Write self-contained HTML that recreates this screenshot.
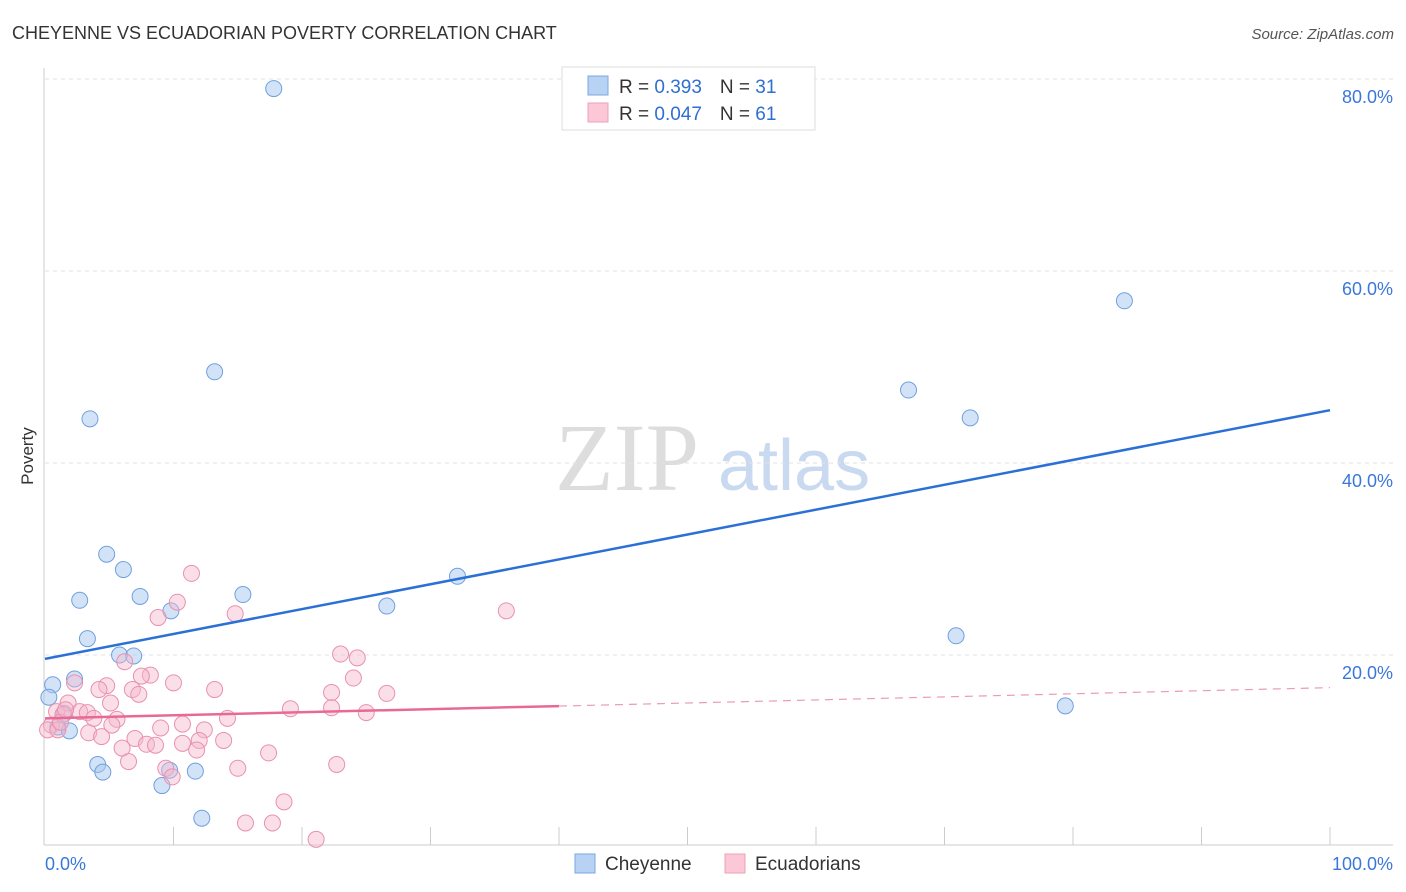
<!DOCTYPE html>
<html><head><meta charset="utf-8"><style>
body{margin:0;background:#fff;font-family:"Liberation Sans",sans-serif}
svg{display:block}
</style></head><body>
<svg id="chart" width="1406" height="892" viewBox="0 0 1406 892">
<text x="12" y="39" font-size="18" fill="#333">CHEYENNE VS ECUADORIAN POVERTY CORRELATION CHART</text>
<text x="1394" y="39" font-size="15" fill="#555" font-style="italic" text-anchor="end">Source: ZipAtlas.com</text>
<text x="33" y="456" font-size="17" fill="#333" transform="rotate(-90 33 456)" text-anchor="middle">Poverty</text>
<text x="555" y="490" font-size="96" fill="#ddd" font-family="Liberation Serif,serif">ZIP</text>
<text x="718" y="490" font-size="72" fill="#c8d9f0">atlas</text>
<g id="grid"></g><g id="pts"></g><g id="lines"></g>
<g>
<rect x="562" y="67" width="253" height="63" fill="#fff" stroke="#ddd"/>
<rect x="588" y="76" width="20" height="19" fill="#b8d2f4" stroke="#7aa8e0"/>
<rect x="588" y="103" width="20" height="19" fill="#fcc8d8" stroke="#eda0b8"/>
<text x="619" y="93" font-size="19" fill="#333">R = <tspan fill="#2f6fd0">0.393</tspan><tspan dx="18">N = </tspan><tspan fill="#2f6fd0">31</tspan></text>
<text x="619" y="120" font-size="19" fill="#333">R = <tspan fill="#2f6fd0">0.047</tspan><tspan dx="18">N = </tspan><tspan fill="#2f6fd0">61</tspan></text>
</g>
<g>
<rect x="575" y="854" width="20" height="19" fill="#b8d2f4" stroke="#7aa8e0"/>
<text x="605" y="870" font-size="19" fill="#333">Cheyenne</text>
<rect x="725" y="854" width="20" height="19" fill="#fcc8d8" stroke="#eda0b8"/>
<text x="755" y="870" font-size="19" fill="#333">Ecuadorians</text>
</g>
</svg>
<script>
const yTicks=[20,40,60,80];
const yTickLabels=["20.0%","40.0%","60.0%","80.0%"];
const xTickLabels=["0.0%","100.0%"];
const cheyenneX=[17.8,13.2,3.5,4.8,6.1,2.7,7.4,9.8,15.4,3.3,5.8,6.9,0.6,2.3,0.3,1.5,1.0,1.9,4.1,4.5,9.7,11.7,9.1,12.2,26.6,32.1,67.2,72.0,84.0,70.9,79.4];
const cheyenneY=[79.0,49.5,44.6,30.5,28.9,25.7,26.1,24.6,26.3,21.7,20.0,19.9,16.9,17.5,15.6,13.9,12.5,12.1,8.6,7.8,8.0,7.9,6.4,3.0,25.1,28.2,47.6,44.7,56.9,22.0,14.7];
const ecuadorX=[11.4,10.3,8.8,14.8,35.9,23.0,24.3,24.0,26.6,22.3,10.0,13.2,8.2,7.5,6.2,2.3,4.8,4.2,6.8,7.3,1.8,5.1,0.9,2.7,3.3,3.8,5.6,5.2,1.4,0.5,0.2,1.0,3.4,4.4,10.7,9.0,12.4,14.2,19.1,22.3,25.0,7.0,6.0,7.9,8.6,10.7,12.0,13.9,11.8,17.4,6.5,9.4,9.9,15.0,22.7,18.6,15.6,17.7,21.1,1.2,1.6];
const ecuadorY=[28.5,25.5,23.9,24.3,24.6,20.1,19.7,17.6,16.0,16.1,17.1,16.4,17.9,17.8,19.3,17.1,16.8,16.4,16.4,15.9,15.0,15.0,14.1,14.1,14.0,13.4,13.3,12.7,13.8,12.7,12.2,12.2,11.9,11.5,12.8,12.4,12.2,13.4,14.4,14.5,14.0,11.3,10.3,10.7,10.6,10.8,11.1,11.1,10.1,9.8,8.9,8.2,7.3,8.2,8.6,4.7,2.5,2.5,0.8,13.0,14.3];
const blueLine=[19.6,45.5];
const pinkLine=[13.4,16.6];
const pinkSolidEnd=40;
const NS="http://www.w3.org/2000/svg";
const X0=45,X1=1330,Y0=847,YPER=9.6;
const xs=v=>X0+(X1-X0)*v/100, ys=v=>Y0-v*YPER;
function mk(tag,at,parent){const e=document.createElementNS(NS,tag);for(const k in at)e.setAttribute(k,at[k]);document.getElementById(parent).appendChild(e);return e;}
yTicks.forEach((t,i)=>{
 const g=mk('line',{x1:45,x2:1393,y1:ys(t),y2:ys(t),stroke:'#e2e2e2','stroke-dasharray':'4,4'},'grid');
 
 
 const l=mk('text',{x:1393,y:ys(t)+24,'font-size':18,fill:'#3a78d8','text-anchor':'end'},'grid');
 l.textContent=yTickLabels[i];
 
 
});
const ax=mk('line',{x1:44,x2:44,y1:68,y2:845,stroke:'#ccc'},'grid');


const bx=mk('line',{x1:44,x2:1393,y1:845,y2:845,stroke:'#ccc'},'grid');


for(let i=1;i<=10;i++){const t=mk('line',{x1:xs(i*10),x2:xs(i*10),y1:827,y2:845,stroke:'#ccc'},'grid');
 
 }
[[xTickLabels[0],45,'start'],[xTickLabels[1],1393,'end']].forEach(a=>{const t=mk('text',{x:a[1],y:870,'font-size':18,fill:'#3a78d8','text-anchor':a[2]},'grid');t.textContent=a[0];
 
 });
cheyenneX.forEach((v,i)=>{const c=mk('circle',{cx:xs(v),cy:ys(cheyenneY[i]),r:8,fill:'rgba(168,200,240,0.5)',stroke:'#6fa0e0','stroke-width':1},'pts');
 
 });
ecuadorX.forEach((v,i)=>{const c=mk('circle',{cx:xs(v),cy:ys(ecuadorY[i]),r:8,fill:'rgba(245,184,204,0.45)',stroke:'#ea90ae','stroke-width':1},'pts');
 
 });
const bl=mk('line',{x1:xs(0),y1:ys(blueLine[0]),x2:xs(100),y2:ys(blueLine[1]),stroke:'#2a70d6','stroke-width':2.5},'lines');


const pm=pinkLine[0]+(pinkLine[1]-pinkLine[0])*pinkSolidEnd/100;
const pl=mk('line',{x1:xs(0),y1:ys(pinkLine[0]),x2:xs(pinkSolidEnd),y2:ys(pm),stroke:'#e86a94','stroke-width':2.5},'lines');


const pd=mk('line',{x1:xs(pinkSolidEnd),y1:ys(pm),x2:xs(100),y2:ys(pinkLine[1]),stroke:'#ec9ab6','stroke-width':1.2,'stroke-dasharray':'8,6'},'lines');


</script>
</body></html>
